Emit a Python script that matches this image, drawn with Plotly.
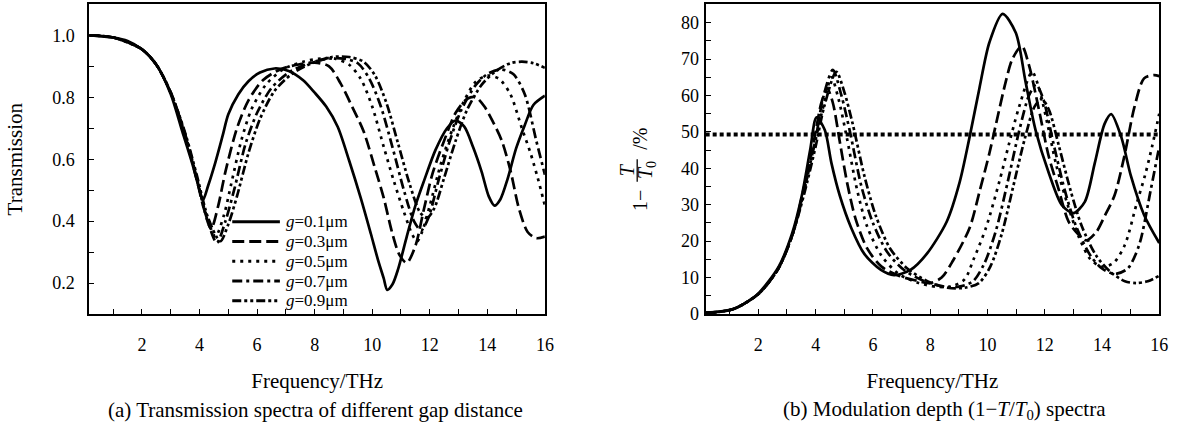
import plotly.graph_objects as go

# ---------------- data: (a) transmission ----------------
f01 = [0.17, 1.0, 1.5, 2.0, 2.5, 3.0, 3.4, 3.75, 4.0, 4.12, 4.3, 4.55, 4.8, 5.0, 5.35, 5.7, 6.1, 6.6, 7.1, 7.6,
       8.0, 8.4, 8.8, 9.2, 9.6, 9.95, 10.2, 10.4, 10.52, 10.7, 10.9, 11.2, 11.5, 11.8, 12.2, 12.6, 12.9, 13.2, 13.5, 13.8,
       14.05, 14.25, 14.45, 14.7, 15.0, 15.3, 15.6, 16.0]
t01 = [1.0, 0.993, 0.982, 0.955, 0.905, 0.81, 0.69, 0.585, 0.50, 0.468, 0.515, 0.59, 0.675, 0.745, 0.81, 0.852, 0.88, 0.893, 0.885, 0.855,
       0.815, 0.77, 0.705, 0.595, 0.475, 0.36, 0.275, 0.215, 0.178, 0.195, 0.245, 0.35, 0.45, 0.53, 0.63, 0.70, 0.725, 0.705, 0.64, 0.56,
       0.48, 0.45, 0.47, 0.535, 0.635, 0.71, 0.775, 0.805]

f03 = [0.17, 1.0, 2.0, 2.5, 3.0, 3.5, 3.9, 4.15, 4.4, 4.65, 4.9, 5.3, 5.7, 6.2, 6.8, 7.4, 8.0, 8.5, 8.9, 9.3,
       9.7, 10.1, 10.4, 10.7, 10.95, 11.2, 11.5, 11.8, 12.1, 12.5, 12.9, 13.3, 13.6, 13.9, 14.2, 14.5, 14.8, 15.1, 15.4, 15.7, 16.0]
t03 = [1.0, 0.993, 0.955, 0.905, 0.815, 0.675, 0.535, 0.44, 0.375, 0.45, 0.56, 0.70, 0.79, 0.855, 0.89, 0.905, 0.912, 0.90, 0.845, 0.77,
       0.69, 0.57, 0.475, 0.36, 0.29, 0.265, 0.32, 0.44, 0.555, 0.66, 0.75, 0.795, 0.80, 0.77, 0.72, 0.66, 0.565, 0.44, 0.365, 0.345, 0.35]

f05 = [0.17, 1.0, 2.0, 2.5, 3.0, 3.5, 3.9, 4.2, 4.55, 4.85, 5.1, 5.45, 5.8, 6.3, 6.9, 7.6, 8.2, 8.7, 9.2, 9.6,
       10.0, 10.4, 10.75, 11.1, 11.4, 11.56, 11.75, 12.0, 12.4, 12.8, 13.2, 13.6, 14.0, 14.4, 14.8, 15.2, 15.5, 15.75, 16.0]
t05 = [1.0, 0.993, 0.955, 0.905, 0.815, 0.68, 0.54, 0.43, 0.35, 0.42, 0.52, 0.66, 0.76, 0.84, 0.89, 0.915, 0.925, 0.925, 0.905, 0.86,
       0.77, 0.64, 0.53, 0.43, 0.355, 0.335, 0.37, 0.45, 0.59, 0.70, 0.79, 0.85, 0.87, 0.86, 0.81, 0.70, 0.62, 0.54, 0.45]

f07 = [0.17, 1.0, 2.0, 2.5, 3.0, 3.5, 3.9, 4.25, 4.6, 4.9, 5.2, 5.6, 6.0, 6.5, 7.1, 7.8, 8.5, 9.0, 9.5, 9.9,
       10.3, 10.7, 11.1, 11.45, 11.7, 11.95, 12.3, 12.7, 13.1, 13.6, 14.0, 14.45, 14.9, 15.3, 15.7, 16.0]
t07 = [1.0, 0.993, 0.955, 0.905, 0.815, 0.68, 0.54, 0.41, 0.33, 0.40, 0.50, 0.65, 0.75, 0.83, 0.88, 0.91, 0.925, 0.925, 0.91, 0.86,
       0.77, 0.64, 0.50, 0.40, 0.37, 0.41, 0.53, 0.66, 0.76, 0.84, 0.875, 0.89, 0.875, 0.81, 0.66, 0.55]

f09 = [0.17, 1.0, 2.0, 2.5, 3.0, 3.5, 3.9, 4.3, 4.72, 5.0, 5.3, 5.7, 6.1, 6.6, 7.2, 7.9, 8.6, 9.2, 9.7, 10.1,
       10.5, 10.9, 11.3, 11.65, 11.9, 12.15, 12.5, 12.9, 13.3, 13.8, 14.3, 14.8, 15.2, 15.6, 16.0]
t09 = [1.0, 0.993, 0.955, 0.905, 0.815, 0.685, 0.55, 0.41, 0.335, 0.39, 0.48, 0.62, 0.73, 0.82, 0.875, 0.91, 0.93, 0.93, 0.915, 0.87,
       0.78, 0.65, 0.52, 0.43, 0.41, 0.44, 0.54, 0.66, 0.76, 0.84, 0.885, 0.91, 0.915, 0.91, 0.895]

# ---------------- data: (b) modulation depth (%) ----------------
g01_f = [0.16, 1.1, 1.5, 2.02, 2.71, 3.17, 3.52, 3.81, 4.03, 4.32, 4.55, 4.84, 5.24, 5.7, 6.28, 6.74, 7.31, 7.88, 8.58, 9.03,
         9.38, 9.72, 10.07, 10.53, 10.99, 11.33, 11.68, 12.14, 12.6, 13.0, 13.4, 13.75, 14.09, 14.32, 14.67, 15.01, 15.47, 16.0]
g01_m = [0.3, 1.3, 2.8, 5.8, 13, 21.9, 32.6, 45.1, 54, 50.5, 41.5, 32.6, 23.7, 16.5, 12.1, 10.7, 12.1, 16.5, 25.4, 36.2,
         48.7, 62, 74.6, 82.4, 77.2, 63.8, 50.5, 38.8, 29.9, 27.7, 30.8, 41.5, 52.2, 54.9, 48.7, 37.9, 27.2, 19.5]

g03_f = [0.16, 1.1, 2.0, 2.7, 3.2, 3.6, 3.95, 4.2, 4.4, 4.6, 4.85, 5.1, 5.4, 5.8, 6.3, 6.9, 7.5, 8.0, 8.4, 8.8,
         9.38, 9.72, 10.07, 10.3, 10.64, 10.87, 11.2, 11.45, 11.8, 12.14, 12.48, 12.83, 13.17, 13.45, 13.8, 14.1, 14.44, 14.78, 15.13, 15.47,
         15.82, 16.0]
g03_m = [0.3, 1.3, 5.5, 12.5, 22, 35, 48, 58, 62, 58, 47, 36, 26, 18, 13, 10.5, 9.2, 8.5, 10, 14.7,
         23.7, 33.5, 44.2, 52.2, 63.8, 70, 73.6, 68.3, 56, 43.3, 34.4, 25.4, 21.9, 20.2, 22.5, 27, 32.6, 43.3, 56.7, 64.7,
         65.6, 65.3]

g05_f = [0.16, 1.1, 2.0, 2.7, 3.2, 3.6, 4.0, 4.3, 4.55, 4.8, 5.1, 5.45, 5.8, 6.3, 6.9, 7.6, 8.2, 8.7, 9.2, 9.5,
         9.95, 10.41, 10.76, 11.1, 11.56, 11.8, 12.1, 12.4, 12.8, 13.2, 13.6, 14.0, 14.4, 14.8, 15.2, 15.5, 15.75, 16.0]
g05_m = [0.3, 1.3, 5.5, 12.5, 22, 34, 48, 58, 65, 59, 48, 34, 24, 16, 11, 8.5, 7.5, 7.5, 9.5, 14.7,
         23.7, 36.2, 46.9, 56.7, 66.5, 62, 52, 41, 30, 21, 15, 13, 14, 19, 30, 38, 46, 55]

g07_f = [0.16, 1.1, 2.0, 2.7, 3.2, 3.6, 4.0, 4.25, 4.6, 4.9, 5.2, 5.6, 6.0, 6.5, 7.1, 7.8, 8.5, 9.0, 9.5, 9.9,
         10.3, 10.7, 11.1, 11.45, 11.7, 11.95, 12.3, 12.7, 13.1, 13.6, 14.0, 14.45, 14.9, 15.3, 15.7, 16.0]
g07_m = [0.3, 1.3, 5.5, 12.5, 22, 34, 48, 59, 67, 60, 50, 35, 25, 17, 12, 9, 7.5, 7.5, 9, 14,
         23, 36, 50, 60, 63, 59, 47, 34, 24, 16, 12.5, 11, 12.5, 19, 34, 46]

g09_f = [0.16, 1.1, 2.0, 2.7, 3.2, 3.6, 4.0, 4.3, 4.72, 5.0, 5.3, 5.7, 6.1, 6.6, 7.2, 7.9, 8.6, 9.2, 9.7, 10.1,
         10.5, 10.9, 11.3, 11.65, 11.9, 12.15, 12.5, 12.9, 13.3, 13.8, 14.3, 14.8, 15.2, 15.6, 16.0]
g09_m = [0.3, 1.3, 5.5, 12.5, 22, 33, 46, 57, 66.5, 61, 52, 38, 27, 18, 12.5, 9, 7.2, 7.2, 8.5, 13,
         22, 35, 48, 57, 59, 56, 46, 34, 24, 16, 11.5, 9, 8.5, 9, 10.5]

thr_f = [0.16, 16.0]
thr_m = [49.3, 49.3]

labels = ["<i>g</i>=0.1μm", "<i>g</i>=0.3μm", "<i>g</i>=0.5μm", "<i>g</i>=0.7μm", "<i>g</i>=0.9μm"]
x_major = [2, 4, 6, 8, 10, 12, 14, 16]
x_minor = [1, 3, 5, 7, 9, 11, 13, 15]
y1_major = [0.2, 0.4, 0.6, 0.8, 1.0]
y1_minor = [0.3, 0.5, 0.7, 0.9]
y2_major = [0, 10, 20, 30, 40, 50, 60, 70, 80]
y2_minor = [5, 15, 25, 35, 45, 55, 65, 75]

# ---------------- styling ----------------
W, H = 1202, 429
FONT = "Liberation Serif, Times New Roman, serif"
dashes = ["solid", "12px,5px", "3px,5px", "10px,4px,3px,4px", "9px,3px,3px,3px,3px,3px"]
LW = 2.7
NB = "\u00a0"

def px_x(p):
    return p / W

def px_y(p):
    return 1 - p / H

fig = go.Figure()
left = [(f01, t01), (f03, t03), (f05, t05), (f07, t07), (f09, t09)]
right = [(g01_f, g01_m), (g03_f, g03_m), (g05_f, g05_m), (g07_f, g07_m), (g09_f, g09_m)]
for i, (xs, ys) in enumerate(left):
    fig.add_trace(go.Scatter(x=xs, y=ys, mode="lines", name=labels[i], showlegend=False,
                             line=dict(color="black", width=LW, dash=dashes[i], shape="spline", smoothing=0.8),
                             xaxis="x", yaxis="y"))
for i, (xs, ys) in enumerate(right):
    fig.add_trace(go.Scatter(x=xs, y=ys, mode="lines", name=labels[i], showlegend=False,
                             line=dict(color="black", width=LW, dash=dashes[i], shape="spline", smoothing=0.8),
                             xaxis="x2", yaxis="y2"))
fig.add_trace(go.Scatter(x=thr_f, y=thr_m, mode="lines", showlegend=False,
                         line=dict(color="black", width=4, dash="4px,3px"), xaxis="x2", yaxis="y2"))

def axis(major, minor, title, standoff, tsize=21, **kw):
    d = dict(showline=True, linewidth=2, linecolor="black", mirror=True, showgrid=False, zeroline=False,
             ticks="inside", ticklen=5, tickwidth=1.2, tickcolor="black",
             tickmode="array", tickvals=major,
             minor=dict(tickmode="array", tickvals=minor, ticks="inside", ticklen=5, tickwidth=1.2,
                        tickcolor="black", showgrid=False),
             tickfont=dict(family=FONT, size=18, color="black"),
             title=dict(text=title, standoff=standoff, font=dict(family=FONT, size=tsize, color="black")))
    d.update(kw)
    return d

ydom = [px_y(321.5), px_y(4.5)]
# "1−  T/T0  /%": the fraction itself is drawn in the gap left by the spaces
y2_title = "1−" + NB * 8 + "/%" + NB * 4 + "\u200b"
fig.update_layout(
    width=W, height=H, margin=dict(l=0, r=0, t=0, b=0),
    paper_bgcolor="white", plot_bgcolor="white", showlegend=False,
    xaxis=axis(x_major, x_minor, "Frequency/THz", 20, domain=[px_x(90), px_x(549)], range=[0.17, 16.0],
               anchor="y", ticklabelstandoff=13),
    yaxis=axis(y1_major, y1_minor, "Transmission", 24, domain=ydom, range=[0.1, 1.1], anchor="x",
               tickformat=".1f", ticklabelstandoff=9),
    xaxis2=axis(x_major, x_minor, "Frequency/THz", 20, domain=[px_x(711), px_x(1168)], range=[0.16, 16.0],
                anchor="y2", ticklabelstandoff=13),
    yaxis2=axis(y2_major, y2_minor, y2_title, 28, tsize=20, domain=ydom, range=[0, 85], anchor="x2",
                ticklabelstandoff=1),
)

ann = []
def txt(x, y, s, size=21, angle=0, xanchor="center"):
    ann.append(dict(x=px_x(x), y=px_y(y), xref="paper", yref="paper", text=s, showarrow=False,
                    textangle=angle, xanchor=xanchor, yanchor="middle", borderpad=0,
                    font=dict(family=FONT, size=size, color="black")))

txt(318, 420, "(a) Transmission spectra of different gap distance")
txt(952, 420, "(b) Modulation depth (1−<i>T</i>/<i>T</i><sub>0</sub>) spectra")
# fraction part of the right y-axis title
txt(632, 174, "<i>T</i>", size=20, angle=-90)
txt(652, 174, "<i>T</i><sub>0</sub>", size=20, angle=-90)

shapes = [dict(type="line", xref="paper", yref="paper", x0=px_x(642), x1=px_x(642),
               y0=px_y(163), y1=px_y(186), line=dict(color="black", width=1.3))]

# legend of panel (a)
rows = [227, 247.25, 267.5, 287.75, 308]
for i, r in enumerate(rows):
    shapes.append(dict(type="line", xref="paper", yref="paper", x0=px_x(234), x1=px_x(282),
                       y0=px_y(r), y1=px_y(r), line=dict(color="black", width=3, dash=dashes[i])))
    txt(287, r, labels[i], size=17, xanchor="left")

fig.update_layout(annotations=ann, shapes=shapes)
fig.write_html("out.html")
